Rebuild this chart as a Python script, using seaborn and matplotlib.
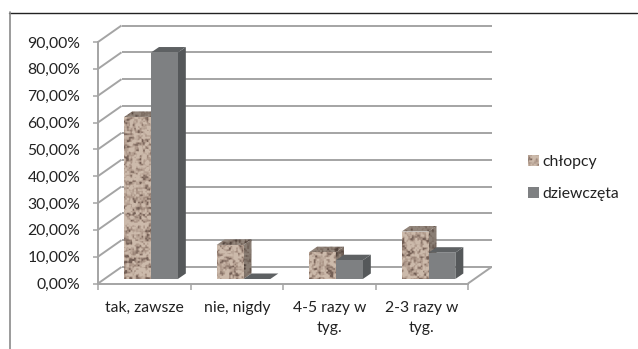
import numpy as np
import pandas as pd
import matplotlib
matplotlib.use("Agg")
import matplotlib.pyplot as plt
import seaborn as sns
from matplotlib.patches import Polygon
from matplotlib.transforms import Affine2D, IdentityTransform

# Survey answers and the share of each group choosing them
categories = ["tak, zawsze", "nie, nigdy", "4-5 razy w\ntyg.", "2-3 razy w\ntyg."]
chlopcy = [60.4, 12.7, 10.0, 17.7]
dziewczeta = [84.4, 0.0, 7.0, 9.8]
series_names = ["chłopcy", "dziewczęta"]
y_ticks = [0, 10, 20, 30, 40, 50, 60, 70, 80, 90]

W, H = 638, 349
GRID = "#a4a4a4"
GREY_FRONT, GREY_SIDE, GREY_TOP = "#7e8082", "#55585a", "#5e6163"
STONE = "#b39e90"
TEXT_SIZE = 11.3

sns.set_theme(style="white")
plt.rcParams["font.family"] = ["Lato", "DejaVu Sans"]

fig = plt.figure(figsize=(W / 100, H / 100), dpi=100, facecolor="white")
ax = fig.add_axes([98 / W, (H - 283.5) / H, 370 / W, 241.5 / H])

table = pd.DataFrame({
    "odp": categories * 2,
    "udzial": chlopcy + dziewczeta,
    "grupa": [series_names[0]] * 4 + [series_names[1]] * 4,
})
sns.barplot(data=table, x="odp", y="udzial", hue="grupa", hue_order=series_names,
            palette=[STONE, GREY_FRONT], width=0.58, gap=0, saturation=1,
            linewidth=0, legend=False, ax=ax, zorder=3)
ax.set_xlim(-0.5, 3.5)
ax.set_ylim(0, 90)
ax.autoscale(False)
ax.set_xlabel("")
ax.set_ylabel("")
ax.set_yticks(y_ticks)
ax.set_yticklabels([f"{v:.2f}%".replace(".", ",") for v in y_ticks])
ax.set_xticks([-0.5, 0.5, 1.5, 2.5, 3.5], labels=[""] * 5)
ax.set_xticks([0, 1, 2, 3], labels=categories, minor=True)
ax.tick_params(axis="y", length=3.6, width=1.1, color=GRID, pad=9, labelsize=TEXT_SIZE,
               labelcolor="#222222", left=True)
ax.tick_params(axis="x", which="major", length=4.3, width=1.1, color=GRID, bottom=True)
ax.tick_params(axis="x", which="minor", length=0, pad=12.5, labelsize=TEXT_SIZE, labelcolor="#222222")
for lab in ax.get_xticklabels(minor=True):
    lab.set_linespacing(1.6)
for name in ("top", "right"):
    ax.spines[name].set_visible(False)
for name in ("left", "bottom"):
    ax.spines[name].set_color(GRID)
    ax.spines[name].set_linewidth(1.4)


def to_px(x, y):
    return ax.transData.transform((x, y))


def px_line(xs, ys, zorder=1):
    ax.plot(xs, ys, transform=IdentityTransform(), color=GRID, lw=1.4,
            clip_on=False, zorder=zorder, solid_capstyle="butt")


# Back wall and side wall of the perspective box
WALL_DX, WALL_DY = 23.5, 16.5
x_left = ax.get_xlim()[0]
x_right = ax.get_xlim()[1]
for v in y_ticks:
    x0, y0 = to_px(x_left, v)
    x1, _ = to_px(x_right, v)
    px_line([x0 + WALL_DX, x1 + WALL_DX], [y0 + WALL_DY, y0 + WALL_DY])
    px_line([x0, x0 + WALL_DX], [y0, y0 + WALL_DY])
x1, y1 = to_px(x_right, 0)
px_line([x1, x1 + WALL_DX], [y1, y1 + WALL_DY])


def cell_noise(xx, yy, cell):
    # Hashed lattice values, smoothly interpolated between cell corners
    def lattice(i, j):
        v = np.sin(i * 12.9898 + j * 78.233) * 43758.5453
        return v - np.floor(v)
    gx, gy = xx / cell, yy / cell
    ix, iy = np.floor(gx), np.floor(gy)
    fx, fy = gx - ix, gy - iy
    fx, fy = fx * fx * (3 - 2 * fx), fy * fy * (3 - 2 * fy)
    top = lattice(ix, iy) * (1 - fx) + lattice(ix + 1, iy) * fx
    bottom = lattice(ix, iy + 1) * (1 - fx) + lattice(ix + 1, iy + 1) * fx
    return top * (1 - fy) + bottom * fy


def stone_texture(w, h, shade=1.0, phase=0.0):
    # Mottled stone: two octaves of cell noise mapped onto a tan ramp
    yy, xx = np.mgrid[0:max(h, 1), 0:max(w, 1)].astype(float)
    xx += phase * 37.0
    yy += phase * 53.0
    n = 0.55 * cell_noise(xx, yy, 3.2) + 0.45 * cell_noise(xx + 11.0, yy + 5.0, 1.8)
    light = np.array([204, 186, 171]) / 255
    mid = np.array([172, 150, 136]) / 255
    dark = np.array([116, 96, 86]) / 255
    t = n[..., None]
    img = np.where(t > 0.4, mid + (light - mid) * np.clip((t - 0.4) * 4.5, 0, 1),
                   dark + (mid - dark) * np.clip((t - 0.2) * 5.0, 0, 1))
    return np.clip(img * shade, 0, 1)


def textured_face(points, shade, phase, zorder):
    pts = np.asarray(points)
    x0, y0 = np.floor(pts.min(axis=0))
    x1, y1 = np.ceil(pts.max(axis=0))
    tex = stone_texture(int(x1 - x0), int(y1 - y0), shade, phase)
    im = ax.imshow(tex, extent=(x0, x1, y0, y1), transform=IdentityTransform(), aspect="auto",
                   interpolation="bilinear", zorder=zorder, origin="lower")
    im.set_clip_box(fig.bbox)
    im.set_clip_path(Polygon(pts, closed=True, transform=IdentityTransform()))
    ax.set_xlim(x_left, x_right)
    ax.set_ylim(0, 90)


# Bars stand slightly inside the floor; each gets a side and top face
BAR_SHIFT = (6.75, 4.5)
DEPTH_DX, DEPTH_DY = 8.0, 5.5
shift = Affine2D().translate(*BAR_SHIFT)
for s, container in enumerate(ax.containers):
    for i, bar in enumerate(container):
        bar.set_transform(ax.transData + shift)
        bar.set_clip_on(False)
        z = 3 + s * 0.5 + i * 0.01
        bar.set_zorder(z + 0.02)
        bx, bw, bh = bar.get_x(), bar.get_width(), bar.get_height()
        lx, by = to_px(bx, 0) + np.array(BAR_SHIFT)
        rx, ty = to_px(bx + bw, bh) + np.array(BAR_SHIFT)
        top = [(lx, ty), (rx, ty), (rx + DEPTH_DX, ty + DEPTH_DY), (lx + DEPTH_DX, ty + DEPTH_DY)]
        side = [(rx, by), (rx + DEPTH_DX, by + DEPTH_DY), (rx + DEPTH_DX, ty + DEPTH_DY), (rx, ty)]
        if s == 0:
            textured_face(side, 0.68, i + 1.3, z)
            textured_face(top, 0.72, i + 2.6, z)
            textured_face([(lx, by), (rx, by), (rx, ty), (lx, ty)], 1.0, i, z + 0.03)
        else:
            if bh > 0:
                ax.add_patch(Polygon(side, closed=True, transform=IdentityTransform(),
                                     facecolor=GREY_SIDE, edgecolor="none", zorder=z, clip_on=False))
            ax.add_patch(Polygon(top, closed=True, transform=IdentityTransform(),
                                 facecolor=GREY_TOP, edgecolor="none", zorder=z, clip_on=False))

# Legend beside the plot
leg = ax.legend(handles=[ax.containers[0][0], ax.containers[1][0]], labels=series_names,
                loc="center left", bbox_to_anchor=(527.5 / W, (H - 178) / H),
                bbox_transform=fig.transFigure, frameon=False, fontsize=TEXT_SIZE,
                handlelength=0.72, handleheight=0.72, handletextpad=0.2, labelspacing=1.12,
                labelcolor="#222222", borderpad=0, borderaxespad=0)
fig.canvas.draw()
hb = leg.legend_handles[0].get_window_extent()
textured_face([(hb.x0, hb.y0), (hb.x1, hb.y0), (hb.x1, hb.y1), (hb.x0, hb.y1)], 1.0, 5.0, 8)

# Chart frame: dark top edge and grey left edge
fig.add_artist(plt.Line2D([9 / W, 637 / W], [(H - 12.5) / H] * 2, color="#222222", lw=1.0))
fig.add_artist(plt.Line2D([9.5 / W] * 2, [0, (H - 12) / H], color="#8a8a8a", lw=1.2))

fig.savefig("out.png", dpi=100, facecolor="white")
